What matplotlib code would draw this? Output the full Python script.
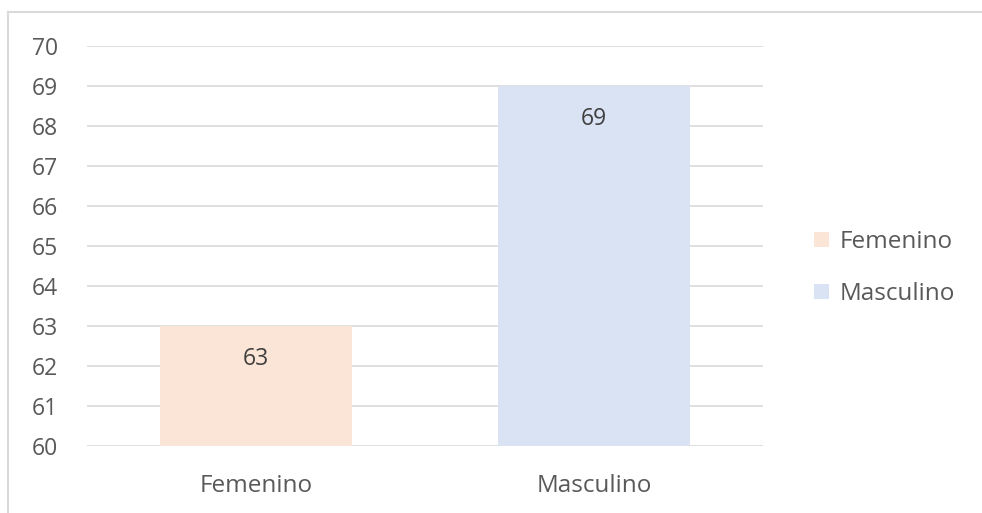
import matplotlib.pyplot as plt
from matplotlib.lines import Line2D
from matplotlib.patches import Patch

categories = ["Femenino", "Masculino"]
values = [63, 69]
colors = ["#FBE5D6", "#DAE3F3"]
y_ticks = list(range(60, 71))

plt.rcParams['font.family'] = ['Open Sans', 'DejaVu Sans']
text_color = "#595959"

fig = plt.figure(figsize=(9.82, 5.13), dpi=100)
ax = fig.add_axes([0.0886, 0.1306, 0.6884, 0.7797])

x = range(len(categories))
bars = ax.bar(x, values, width=0.57, color=colors, bottom=0)
ax.set_ylim(60, 70)
ax.set_xlim(-0.5, 1.5)
ax.set_yticks(y_ticks)
ax.set_xticks(list(x))
ax.set_xticklabels(categories)
ax.grid(axis="y", color="#D9D9D9", linewidth=1.2)
ax.set_axisbelow(True)
for s in ax.spines.values():
    s.set_visible(False)
ax.tick_params(length=0, labelsize=16.5, colors=text_color)
ax.tick_params(axis="y", pad=21)
ax.tick_params(axis="x", pad=20, labelsize=17.5)

for xi, v in zip(x, values):
    ax.annotate(str(v), (xi, v), xytext=(0, -24), textcoords="offset points",
                ha="center", va="center", fontsize=16.5, color="#404040")

handles = [Patch(facecolor=c, edgecolor="none") for c in colors]
fig.legend(handles, categories, loc="center left", bbox_to_anchor=(0.807, 0.477),
           frameon=False, fontsize=17.5, labelcolor=text_color, handlelength=0.6,
           handleheight=0.6, handletextpad=0.45, labelspacing=1.15)

# chart border (top and left edges)
fig.add_artist(Line2D([0.008, 0.008], [0, 0.977], color="#D9D9D9", linewidth=1.5))
fig.add_artist(Line2D([0.008, 1.0], [0.977, 0.977], color="#D9D9D9", linewidth=1.5))

fig.savefig("out.png", dpi=100)
